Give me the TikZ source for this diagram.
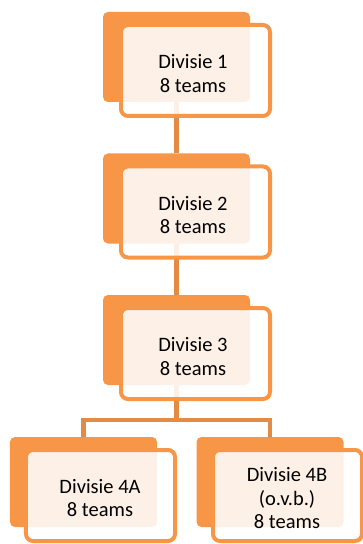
\documentclass[tikz,border=0pt]{standalone}
\usepackage{fontspec}
\setmainfont{Carlito}
\usetikzlibrary{calc}
\definecolor{orng}{HTML}{F79646}
\definecolor{conn}{HTML}{E38A45}
\tikzset{
  back/.style={rectangle, fill=orng, rounded corners=5bp, minimum width=147bp, minimum height=90bp, inner sep=0pt, outer sep=0pt},
  front/.style={rectangle, draw=orng, line width=4bp, fill=white, fill opacity=0.87, rounded corners=7bp, minimum width=149bp, minimum height=91bp, inner sep=0pt, outer sep=0pt},
  txt/.style={align=center, text=black, inner sep=0pt, font=\fontsize{20.5bp}{23.5bp}\selectfont},
  link/.style={draw=conn, line width=4.5bp}
}
\begin{document}
\begin{tikzpicture}[x=1bp,y=-1bp]
\useasboundingbox (0,0) rectangle (362,544);
% back rectangles (positions)
\coordinate (c1) at (176.5,57);
\coordinate (c2) at (176.5,198.5);
\coordinate (c3) at (176.5,340);
\coordinate (c4a) at (83.5,482);
\coordinate (c4b) at (270,482);
% connectors drawn first (behind)
\path (c1) node[back,opacity=0] (r1) {};
\path (c2) node[back,opacity=0] (r2) {};
\path (c3) node[back,opacity=0] (r3) {};
\path (c4a) node[back,opacity=0] (r4a) {};
\path (c4b) node[back,opacity=0] (r4b) {};
\coordinate (j) at ($(r3.south)+(0,35)$);
\draw[link] ($(r1.south)+(0,-6)$) -- (r2.north);
\draw[link] ($(r2.south)+(0,-6)$) -- (r3.north);
\draw[link] ($(r3.south)+(0,-6)$) -- (j);
\draw[link] (r4a.north) |- (j) -| (r4b.north);
% back rectangles
\node[back] at (c1) {};
\node[back] at (c2) {};
\node[back] at (c3) {};
\node[back] at (c4a) {};
\node[back] at (c4b) {};
% front boxes
\node[front] (f1) at ($(c1)+(19,13.5)$) {};
\node[front] (f2) at ($(c2)+(19,13.5)$) {};
\node[front] (f3) at ($(c3)+(19,13.5)$) {};
\node[front] (f4a) at ($(c4a)+(17,13.5)$) {};
\node[front] (f4b) at ($(c4b)+(17.5,13.5)$) {};
% texts
\node[txt] (t1) at ($(f1.center)+(-2.5,3)$) {Divisie 1\\8 teams};
\node[txt] (t2) at ($(f2.center)+(-2.5,3)$) {Divisie 2\\8 teams};
\node[txt] (t3) at ($(f3.center)+(-2.5,3)$) {Divisie 3\\8 teams};
\node[txt] (t4a) at ($(f4a.center)+(-0.5,2.5)$) {Divisie 4A\\8 teams};
\node[txt] (t4b) at ($(f4b.center)+(-0.5,3)$) {Divisie 4B\\(o.v.b.)\\8 teams};
\end{tikzpicture}
\end{document}
